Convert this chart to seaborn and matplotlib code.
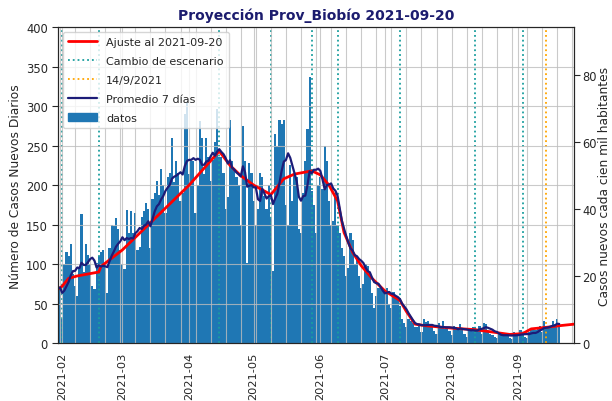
import pandas as pd
import matplotlib
matplotlib.use("Agg")
import matplotlib.pyplot as plt
import matplotlib.dates as mdates
from matplotlib.lines import Line2D
from matplotlib.patches import Patch
import seaborn as sns

# Daily new cases, starting 2021-01-23 (first week only feeds the 7-day mean)
start_date = "2021-01-23"
daily_cases = [
    70, 60, 78, 80, 75, 72, 68,
    50, 70, 30, 100, 115, 110, 125,
    88, 72, 60, 94, 163, 90, 126,
    112, 100, 72, 68, 102, 110, 115,
    118, 96, 64, 120, 150, 148, 158,
    144, 118, 100, 94, 169, 139, 167,
    140, 165, 118, 122, 160, 167, 178,
    170, 120, 182, 190, 205, 187, 220,
    200, 165, 210, 215, 260, 204, 230,
    215, 180, 190, 290, 305, 214, 230,
    230, 165, 200, 281, 260, 214, 260,
    235, 205, 232, 255, 296, 236, 235,
    215, 170, 185, 283, 230, 219, 210,
    200, 150, 275, 230, 102, 228, 215,
    180, 150, 170, 215, 210, 186, 170,
    200, 160, 91, 265, 250, 283, 277,
    282, 175, 150, 225, 180, 213, 210,
    144, 140, 190, 230, 271, 337, 193,
    175, 140, 200, 210, 195, 250, 230,
    180, 150, 155, 190, 150, 140, 120,
    110, 85, 95, 140, 130, 100, 110,
    85, 70, 75, 100, 98, 90, 63,
    45, 60, 70, 72, 66, 65, 70,
    50, 45, 65, 58, 55, 47, 30,
    25, 20, 30, 28, 25, 20, 20,
    22, 14, 30, 27, 28, 20, 20,
    15, 12, 25, 22, 28, 18, 20,
    15, 10, 22, 20, 18, 24, 17,
    12, 8, 18, 16, 20, 20, 18,
    22, 12, 25, 24, 14, 12, 10,
    8, 6, 12, 12, 10, 12, 10,
    6, 5, 14, 12, 12, 16, 12,
    8, 6, 14, 18, 16, 16, 20,
    22, 14, 28, 20, 20, 22, 28,
    24, 30, 26,
]

# Fitted model (piecewise by scenario)
fit_dates = [
    "2021-01-30", "2021-02-01", "2021-02-04", "2021-02-08", "2021-02-18",
    "2021-02-19", "2021-03-01", "2021-03-15", "2021-04-01", "2021-04-15",
    "2021-04-20", "2021-04-25", "2021-05-01", "2021-05-09", "2021-05-15",
    "2021-05-20", "2021-05-28", "2021-06-01", "2021-06-05", "2021-06-09",
    "2021-06-12", "2021-06-16", "2021-06-20", "2021-06-25", "2021-07-01",
    "2021-07-08", "2021-07-11", "2021-07-15", "2021-07-20", "2021-08-01",
    "2021-08-12", "2021-08-20", "2021-08-28", "2021-09-03", "2021-09-07",
    "2021-09-14", "2021-09-20", "2021-09-27",
]
fit_values = [
    68, 72, 82, 85, 90,
    97, 118, 155, 200, 243,
    225, 212, 200, 188, 208,
    214, 218, 213, 200, 180,
    140, 115, 98, 82, 66,
    54, 40, 24, 22, 19,
    17, 14, 11, 12, 18,
    20, 22, 24,
]

scenario_dates = ["2021-02-01", "2021-02-18", "2021-04-15", "2021-05-09",
                  "2021-05-28", "2021-06-09", "2021-07-08", "2021-08-12",
                  "2021-09-03"]
mark_date = "2021-09-14"
population = 424000

df = pd.DataFrame({
    "fecha": pd.date_range(start_date, periods=len(daily_cases), freq="D"),
    "casos": daily_cases,
})
df["prom7"] = df["casos"].rolling(7).mean()
fit = pd.DataFrame({"fecha": pd.to_datetime(fit_dates), "valor": fit_values})

sns.set_style("white")
plt.rcParams["font.family"] = ["DejaVu Sans"]

teal = "#1a9e9e"
navy = "#1c1c78"
bar_blue = "#1f77b4"

fig, ax = plt.subplots(figsize=(6.12, 4.02), dpi=100)
fig.subplots_adjust(left=0.095, right=0.938, top=0.93, bottom=0.144)

ax.bar(df["fecha"], df["casos"], width=1.0, color=bar_blue,
       edgecolor="none", linewidth=0, zorder=1)
for d in scenario_dates:
    ax.axvline(pd.Timestamp(d), color=teal, ls=":", lw=1.3, zorder=2)
ax.axvline(pd.Timestamp(mark_date), color="orange", ls=":", lw=1.3, zorder=2)
sns.lineplot(data=fit, x="fecha", y="valor", ax=ax, color="red", lw=2, zorder=3)
sns.lineplot(data=df, x="fecha", y="prom7", ax=ax, color=navy, lw=1.6, zorder=4)

ax.set_xlim(pd.Timestamp("2021-01-30 03:00"), pd.Timestamp("2021-09-26 22:00"))
ax.set_ylim(0, 400)
ax.set_yticks(range(0, 401, 50))
ax.xaxis.set_major_locator(mdates.MonthLocator())
ax.xaxis.set_minor_locator(mdates.WeekdayLocator(byweekday=mdates.SU))
ax.xaxis.set_major_formatter(mdates.DateFormatter("%Y-%m"))
ax.tick_params(axis="x", which="major", rotation=90, labelsize=8.2, length=4, pad=2)
ax.tick_params(axis="x", which="minor", length=2.5)
ax.tick_params(axis="y", labelsize=8.3, length=4)
ax.grid(True, which="both", axis="x", color="#bdbdbd", lw=0.8, alpha=0.8, zorder=5)
ax.grid(True, which="major", axis="y", color="#bdbdbd", lw=0.8, alpha=0.8, zorder=5)
ax.set_axisbelow(False)
ax.set_xlabel("")
ax.set_ylabel("Número de Casos Nuevos Diarios", fontsize=8.8, labelpad=3)
ax.set_title("Proyección Prov_Biobío 2021-09-20", fontsize=10,
             fontweight="bold", color="#1c1c6e")

ax2 = ax.twinx()
ax2.set_ylim(0, 400 * 100000 / population)
ax2.set_yticks([0, 20, 40, 60, 80])
ax2.tick_params(axis="y", labelsize=8.3, length=4, pad=2)
ax2.set_ylabel("Casos nuevos cada cien mil habitantes", fontsize=8.8, labelpad=1)

handles = [
    Line2D([], [], color="red", lw=2),
    Line2D([], [], color=teal, ls=":", lw=1.3),
    Line2D([], [], color="orange", ls=":", lw=1.3),
    Line2D([], [], color=navy, lw=1.6),
    Patch(color=bar_blue),
]
labels = ["Ajuste al 2021-09-20", "Cambio de escenario", "14/9/2021",
          "Promedio 7 días", "datos"]
ax.legend(handles, labels, loc="upper left", fontsize=8, framealpha=0.8,
          labelspacing=0.8, handlelength=2.6, borderpad=0.5, borderaxespad=0.4)

fig.savefig("out.png", dpi=100)
